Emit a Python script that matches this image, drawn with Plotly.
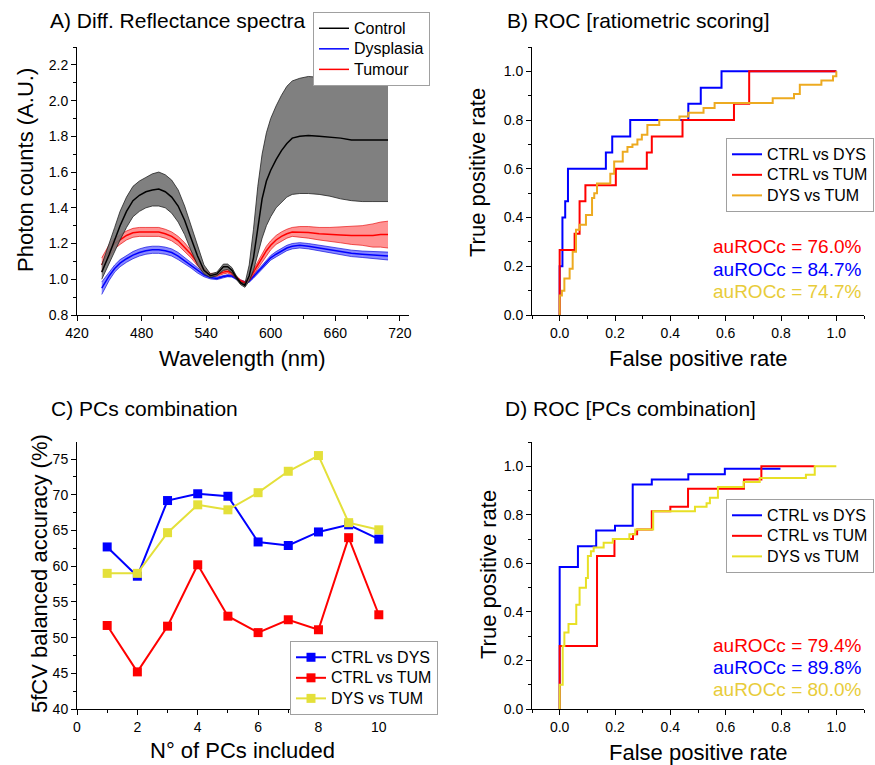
import plotly.graph_objects as go

# ---------------- Panel A data ----------------
wavelength = [443, 446, 450, 455, 460, 466, 472, 478, 484, 490, 496, 502, 508, 514, 520, 526,
              532, 538, 544, 550, 556, 560, 564, 568, 572, 576, 580, 584, 588, 592, 596, 600,
              605, 610, 615, 620, 627, 635, 645, 655, 665, 675, 685, 695, 702, 709]

control_mean = [1.04, 1.08, 1.14, 1.22, 1.30, 1.38, 1.44, 1.47, 1.49, 1.50, 1.505, 1.49, 1.46, 1.41,
                1.33, 1.23, 1.13, 1.05, 1.02, 1.03, 1.07, 1.07, 1.05, 1.01, 0.98, 0.965, 1.02, 1.12,
                1.30, 1.45, 1.55, 1.61, 1.67, 1.72, 1.76, 1.79, 1.80, 1.805, 1.80, 1.795, 1.79, 1.78,
                1.78, 1.78, 1.78, 1.78]
control_upper = [1.08, 1.13, 1.20, 1.29, 1.38, 1.46, 1.52, 1.55, 1.57, 1.59, 1.60, 1.585, 1.555, 1.50,
                 1.41, 1.30, 1.18, 1.08, 1.03, 1.04, 1.085, 1.085, 1.065, 1.02, 0.985, 0.975, 1.08, 1.28,
                 1.52, 1.70, 1.82, 1.90, 1.97, 2.03, 2.08, 2.11, 2.125, 2.135, 2.13, 2.125, 2.12, 2.125,
                 2.125, 2.12, 2.125, 2.13]
control_lower = [1.00, 1.04, 1.09, 1.15, 1.22, 1.29, 1.35, 1.38, 1.40, 1.41, 1.41, 1.40, 1.37, 1.32,
                 1.25, 1.16, 1.08, 1.03, 1.01, 1.02, 1.05, 1.055, 1.035, 1.00, 0.97, 0.955, 0.99, 1.05,
                 1.14, 1.23, 1.30, 1.35, 1.40, 1.43, 1.46, 1.475, 1.48, 1.48, 1.475, 1.465, 1.45, 1.44,
                 1.435, 1.435, 1.435, 1.435]

tumour_mean = [1.08, 1.12, 1.16, 1.20, 1.22, 1.245, 1.26, 1.265, 1.265, 1.265, 1.265, 1.255, 1.24, 1.215,
               1.18, 1.14, 1.09, 1.05, 1.025, 1.025, 1.04, 1.045, 1.035, 1.01, 0.99, 0.98, 1.00, 1.04,
               1.08, 1.12, 1.16, 1.19, 1.22, 1.24, 1.255, 1.265, 1.265, 1.262, 1.255, 1.25, 1.248, 1.245,
               1.245, 1.245, 1.25, 1.25]
tumour_upper = [1.12, 1.155, 1.195, 1.23, 1.25, 1.27, 1.285, 1.29, 1.29, 1.29, 1.29, 1.28, 1.265, 1.24,
                1.205, 1.16, 1.105, 1.062, 1.033, 1.033, 1.05, 1.055, 1.045, 1.018, 0.997, 0.987, 1.01, 1.055,
                1.10, 1.145, 1.185, 1.215, 1.245, 1.265, 1.28, 1.29, 1.295, 1.295, 1.29, 1.29, 1.292, 1.295,
                1.30, 1.31, 1.32, 1.325]
tumour_lower = [1.04, 1.085, 1.125, 1.17, 1.195, 1.22, 1.235, 1.24, 1.24, 1.24, 1.24, 1.23, 1.215, 1.19,
                1.155, 1.12, 1.075, 1.038, 1.017, 1.017, 1.03, 1.035, 1.025, 1.002, 0.983, 0.973, 0.99, 1.025,
                1.06, 1.095, 1.135, 1.165, 1.195, 1.215, 1.23, 1.24, 1.237, 1.23, 1.22, 1.21, 1.204, 1.195,
                1.19, 1.18, 1.18, 1.175]

dysplasia_mean = [0.95, 0.98, 1.02, 1.06, 1.09, 1.115, 1.135, 1.15, 1.16, 1.165, 1.165, 1.16, 1.15, 1.13,
                  1.105, 1.08, 1.05, 1.025, 1.01, 1.005, 1.015, 1.02, 1.018, 1.005, 0.99, 0.982, 0.99, 1.015,
                  1.04, 1.07, 1.095, 1.12, 1.14, 1.16, 1.175, 1.185, 1.19, 1.185, 1.175, 1.165, 1.155, 1.145,
                  1.14, 1.135, 1.13, 1.13]
dysplasia_upper = [0.985, 1.01, 1.045, 1.08, 1.11, 1.135, 1.155, 1.17, 1.18, 1.185, 1.185, 1.18, 1.17, 1.15,
                   1.123, 1.097, 1.065, 1.036, 1.018, 1.012, 1.022, 1.026, 1.024, 1.011, 0.996, 0.988, 0.997, 1.024,
                   1.05, 1.082, 1.108, 1.133, 1.155, 1.175, 1.19, 1.20, 1.205, 1.20, 1.19, 1.18, 1.172, 1.163,
                   1.158, 1.155, 1.15, 1.152]
dysplasia_lower = [0.915, 0.95, 0.995, 1.04, 1.07, 1.095, 1.115, 1.13, 1.14, 1.145, 1.145, 1.14, 1.13, 1.11,
                   1.087, 1.063, 1.035, 1.014, 1.002, 0.998, 1.008, 1.014, 1.012, 0.999, 0.984, 0.976, 0.983, 1.006,
                   1.03, 1.058, 1.082, 1.107, 1.125, 1.145, 1.16, 1.17, 1.175, 1.17, 1.16, 1.15, 1.138, 1.127,
                   1.122, 1.115, 1.11, 1.108]

# ---------------- Panel B data (ROC ratiometric) ----------------
b_ctrl_dys_fpr = [0, 0, 0.01, 0.02, 0.03, 0.167, 0.19, 0.255, 0.465, 0.51, 0.585, 1.0]
b_ctrl_dys_tpr = [0, 0.2, 0.4, 0.467, 0.6, 0.667, 0.733, 0.8, 0.867, 0.933, 1.0, 1.0]
b_ctrl_tum_fpr = [0, 0, 0.054, 0.072, 0.093, 0.203, 0.315, 0.333, 0.444, 0.63, 0.685, 1.0]
b_ctrl_tum_tpr = [0, 0.267, 0.333, 0.467, 0.533, 0.6, 0.667, 0.733, 0.8, 0.867, 1.0, 1.0]
b_dys_tum_fpr = [0, 0, 0.008, 0.017, 0.036, 0.047, 0.059, 0.072, 0.095, 0.117, 0.125, 0.135, 0.183,
                 0.197, 0.228, 0.245, 0.263, 0.281, 0.297, 0.317, 0.36, 0.433, 0.465, 0.52, 0.56, 0.77,
                 0.847, 0.868, 0.946, 0.988, 1.0]
b_dys_tum_tpr = [0, 0.08, 0.1, 0.15, 0.19, 0.26, 0.35, 0.37, 0.41, 0.48, 0.5, 0.54, 0.58,
                 0.63, 0.67, 0.69, 0.70, 0.72, 0.74, 0.78, 0.80, 0.815, 0.83, 0.85, 0.87, 0.89,
                 0.907, 0.945, 0.963, 0.98, 1.0]
b_auc_labels = ["auROCc = 76.0%", "auROCc = 84.7%", "auROCc = 74.7%"]

# ---------------- Panel C data (PCs combination) ----------------
n_pcs = [1, 2, 3, 4, 5, 6, 7, 8, 9, 10]
acc_ctrl_dys = [62.7, 58.6, 69.2, 70.15, 69.8, 63.4, 62.9, 64.8, 65.8, 63.8]
acc_ctrl_tum = [51.7, 45.2, 51.6, 60.2, 53.0, 50.7, 52.5, 51.1, 64.0, 53.2]
acc_dys_tum = [59.0, 59.0, 64.7, 68.6, 67.9, 70.3, 73.3, 75.5, 66.1, 65.1]

# ---------------- Panel D data (ROC PCs combination) ----------------
d_ctrl_dys_fpr = [0, 0, 0.066, 0.132, 0.2, 0.264, 0.333, 0.465, 0.597, 0.798]
d_ctrl_dys_tpr = [0, 0.585, 0.67, 0.735, 0.755, 0.925, 0.945, 0.967, 0.99, 0.99]
d_ctrl_tum_fpr = [0, 0, 0.135, 0.198, 0.265, 0.28, 0.333, 0.4, 0.464, 0.666, 0.729, 0.922]
d_ctrl_tum_tpr = [0, 0.26, 0.63, 0.70, 0.72, 0.74, 0.815, 0.833, 0.907, 0.946, 1.0, 1.0]
d_dys_tum_fpr = [0, 0, 0.011, 0.017, 0.032, 0.06, 0.072, 0.095, 0.102, 0.113, 0.123, 0.159, 0.192,
                 0.252, 0.273, 0.338, 0.489, 0.531, 0.543, 0.572, 0.665, 0.723, 0.89, 0.922, 1.0]
d_dys_tum_tpr = [0, 0.1, 0.26, 0.315, 0.35, 0.43, 0.5, 0.54, 0.63, 0.65, 0.665, 0.685, 0.70,
                 0.72, 0.74, 0.815, 0.833, 0.848, 0.87, 0.915, 0.935, 0.952, 0.965, 1.0, 1.0]
d_auc_labels = ["auROCc = 79.4%", "auROCc = 89.8%", "auROCc = 80.0%"]

pair_names = ["CTRL vs DYS", "CTRL vs TUM", "DYS vs TUM"]
spectra_names = ["Control", "Dysplasia", "Tumour"]

FONT = "Arial, Liberation Sans, sans-serif"
BLUE = "#0000FF"
RED = "#FF0000"
GOLD = "#EDAA20"
YELLOW_D = "#E8E025"
YELLOW_C = "#E4E03A"
YELLOW_TXT = "#E8CC3A"

LEG_TXT = 16      # visible legend text size
LEG_ROW = 13.5    # legend font size controlling row spacing


def leg(name):
    return '<span style="font-size:%dpx">%s</span>' % (LEG_TXT, name)


fig = go.Figure()

# ---- Panel A ----
def add_band(x, lo, hi, mean, fillc, edgec, linec, name, rank):
    fig.add_trace(go.Scatter(x=x, y=lo, mode="lines", line=dict(color=edgec, width=0.8),
                             xaxis="x", yaxis="y", showlegend=False, hoverinfo="skip"))
    fig.add_trace(go.Scatter(x=x, y=hi, mode="lines", fill="tonexty", fillcolor=fillc,
                             line=dict(color=edgec, width=0.8),
                             xaxis="x", yaxis="y", showlegend=False, hoverinfo="skip"))
    fig.add_trace(go.Scatter(x=x, y=mean, mode="lines", line=dict(color=linec, width=1.5),
                             xaxis="x", yaxis="y", name=leg(name), legend="legend", legendrank=rank))

add_band(wavelength, dysplasia_lower, dysplasia_upper, dysplasia_mean,
         "rgba(40,40,255,0.55)", "rgba(0,0,220,0.8)", BLUE, spectra_names[1], 2)
add_band(wavelength, tumour_lower, tumour_upper, tumour_mean,
         "rgba(255,40,40,0.5)", "rgba(230,0,0,0.8)", RED, spectra_names[2], 3)
add_band(wavelength, control_lower, control_upper, control_mean,
         "rgba(110,110,110,0.88)", "#222222", "#000000", spectra_names[0], 1)

# ---- Panel B ----
for fx, ty, col, nm in [(b_ctrl_dys_fpr, b_ctrl_dys_tpr, BLUE, pair_names[0]),
                        (b_ctrl_tum_fpr, b_ctrl_tum_tpr, RED, pair_names[1]),
                        (b_dys_tum_fpr, b_dys_tum_tpr, GOLD, pair_names[2])]:
    fig.add_trace(go.Scatter(x=fx, y=ty, mode="lines", line=dict(color=col, width=2, shape="hv"),
                             xaxis="x2", yaxis="y2", name=leg(nm), legend="legend2"))

# ---- Panel C ----
for vals, col, nm in [(acc_ctrl_dys, BLUE, pair_names[0]),
                      (acc_ctrl_tum, RED, pair_names[1]),
                      (acc_dys_tum, YELLOW_C, pair_names[2])]:
    fig.add_trace(go.Scatter(x=n_pcs, y=vals, mode="lines+markers",
                             line=dict(color=col, width=2),
                             marker=dict(symbol="square", size=9, color=col),
                             xaxis="x3", yaxis="y3", name=leg(nm), legend="legend3"))

# ---- Panel D ----
for fx, ty, col, nm in [(d_ctrl_dys_fpr, d_ctrl_dys_tpr, BLUE, pair_names[0]),
                        (d_ctrl_tum_fpr, d_ctrl_tum_tpr, RED, pair_names[1]),
                        (d_dys_tum_fpr, d_dys_tum_tpr, YELLOW_D, pair_names[2])]:
    fig.add_trace(go.Scatter(x=fx, y=ty, mode="lines", line=dict(color=col, width=2, shape="hv"),
                             xaxis="x4", yaxis="y4", name=leg(nm), legend="legend4"))

W, H = 875, 765
def px_x(p):
    return p / W
def px_y(p):
    return 1 - p / H

def axis(domain, rng, dtick, minor, fmt, anchor, tick0=0):
    return dict(domain=domain, range=rng, dtick=dtick, tick0=tick0, tickformat=fmt,
                showline=True, linecolor="black", linewidth=1, mirror=False,
                ticks="outside", ticklen=5, tickwidth=1, tickcolor="black",
                minor=dict(dtick=minor, ticks="outside", ticklen=3, tickcolor="black", showgrid=False),
                showgrid=False, zeroline=False, anchor=anchor,
                tickfont=dict(family=FONT, size=14, color="black"))

xl = [px_x(77), px_x(409)]
xr = [px_x(532), px_x(864)]
yt = [px_y(315), px_y(47)]
yb = [px_y(709), px_y(442)]

legend_common = dict(bgcolor="white", bordercolor="#A0A0A0", borderwidth=1,
                     font=dict(family=FONT, size=LEG_ROW, color="black"),
                     yanchor="top", tracegroupgap=0, itemwidth=30)

fig.update_layout(
    width=W, height=H,
    margin=dict(l=0, r=0, t=0, b=0, autoexpand=False),
    paper_bgcolor="white", plot_bgcolor="white",
    font=dict(family=FONT, color="black"),
    xaxis=axis(xl, [420, 728.5], 60, 30, "d", "y", tick0=420),
    yaxis=axis(yt, [0.8, 2.3], 0.2, 0.1, ".1f", "x", tick0=0.8),
    xaxis2=axis(xr, [-0.1, 1.1], 0.2, 0.1, ".1f", "y2"),
    yaxis2=axis(yt, [0, 1.1], 0.2, 0.1, ".1f", "x2"),
    xaxis3=axis(xl, [0, 11], 2, 1, "d", "y3"),
    yaxis3=axis(yb, [40, 77.4], 5, 2.5, "d", "x3"),
    xaxis4=axis(xr, [-0.1, 1.1], 0.2, 0.1, ".1f", "y4"),
    yaxis4=axis(yb, [0, 1.1], 0.2, 0.1, ".1f", "x4"),
    legend=dict(legend_common, x=px_x(313), y=px_y(12), xanchor="left", traceorder="normal"),
    legend2=dict(legend_common, x=px_x(874), y=px_y(138), xanchor="right"),
    legend3=dict(legend_common, x=px_x(290), y=px_y(641), xanchor="left"),
    legend4=dict(legend_common, x=px_x(874), y=px_y(499), xanchor="right"),
)

ann = []
def text(x, y, s, size, color="black", xanchor="left", angle=0):
    ann.append(dict(x=px_x(x), y=px_y(y), xref="paper", yref="paper", text=s, showarrow=False,
                    xanchor=xanchor, yanchor="middle", textangle=angle,
                    font=dict(family=FONT, size=size, color=color)))

# panel titles
text(48, 20, "A) Diff. Reflectance spectra", 21)
text(505, 20, "B) ROC [ratiometric scoring]", 21)
text(49, 408, "C) PCs combination", 21)
text(503, 408, "D) ROC [PCs combination]", 21)

# axis titles
text(25, 170, "Photon counts (A.U.)", 22, xanchor="center", angle=-90)
text(243, 358, "Wavelength (nm)", 22, xanchor="center")
text(478, 173, "True positive rate", 22, xanchor="center", angle=-90)
text(698, 358, "False positive rate", 22, xanchor="center")
text(39, 574, "5fCV balanced accuracy (%)", 22, xanchor="center", angle=-90)
text(243, 750, "N° of PCs included", 22, xanchor="center")
text(488, 575, "True positive rate", 22, xanchor="center", angle=-90)
text(698, 752, "False positive rate", 22, xanchor="center")

# AUC labels
for lab, col, yy in zip(b_auc_labels, [RED, BLUE, YELLOW_TXT], [247, 269, 291]):
    text(863, yy, lab, 19, color=col, xanchor="right")
for lab, col, yy in zip(d_auc_labels, [RED, BLUE, YELLOW_TXT], [645, 667, 689]):
    text(863, yy, lab, 19, color=col, xanchor="right")

fig.update_layout(annotations=ann)
fig.write_html("out.html",
               config={"displayModeBar": False},
               post_script="document.body.style.margin='0px';document.body.style.padding='0px';")
